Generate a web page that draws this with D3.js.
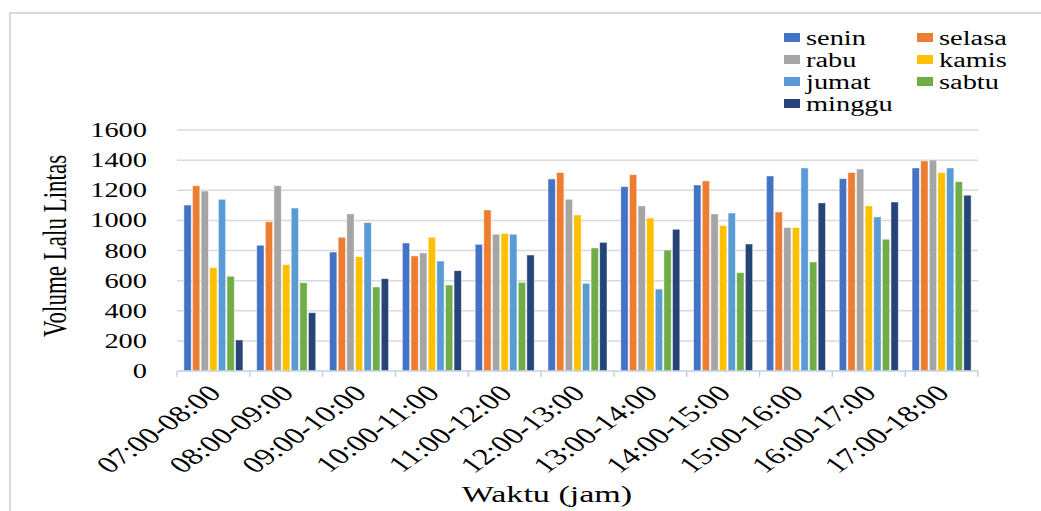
<!DOCTYPE html>
<html>
<head>
<meta charset="utf-8">
<script src="https://cdn.jsdelivr.net/npm/d3@7"></script>
<style>
  html, body { margin: 0; padding: 0; background: #fff; }
  svg { display: block; }
  text { font-family: "Liberation Serif", serif; fill: #000; }
</style>
</head>
<body>
<svg id="chart" width="1041" height="511"></svg>
<script>
const categories = ["07:00-08:00","08:00-09:00","09:00-10:00","10:00-11:00","11:00-12:00","12:00-13:00","13:00-14:00","14:00-15:00","15:00-16:00","16:00-17:00","17:00-18:00"];
const seriesNames = ["senin","selasa","rabu","kamis","jumat","sabtu","minggu"];
const senin  = [1102, 835, 790, 850, 841, 1275, 1224, 1235, 1295, 1277, 1348];
const selasa = [1230, 991, 888, 764, 1069, 1317, 1303, 1262, 1056, 1317, 1395];
const rabu   = [1195, 1230, 1043, 784, 908, 1140, 1096, 1043, 952, 1341, 1401];
const kamis  = [686, 706, 759, 888, 914, 1036, 1016, 965, 952, 1096, 1317];
const jumat  = [1140, 1082, 985, 730, 908, 582, 544, 1049, 1348, 1023, 1348];
const sabtu  = [629, 586, 558, 571, 589, 817, 803, 653, 724, 875, 1257];
const minggu = [206, 387, 613, 666, 770, 854, 941, 843, 1116, 1122, 1167];
const yTicks = [0, 200, 400, 600, 800, 1000, 1200, 1400, 1600];
const colors = ["#4472C4","#ED7D31","#A5A5A5","#FFC000","#5B9BD5","#70AD47","#264478"];

const seriesValues = [senin, selasa, rabu, kamis, jumat, sabtu, minggu];
const SX = 1.42; // horizontal stretch of the original image

const svg = d3.select("#chart");

// frame
svg.append("line").attr("x1", 10).attr("x2", 1041).attr("y1", 13).attr("y2", 13)
  .attr("stroke", "#d9d9d9").attr("stroke-width", 2);
svg.append("line").attr("x1", 10).attr("x2", 10).attr("y1", 12).attr("y2", 511)
  .attr("stroke", "#d9d9d9").attr("stroke-width", 2);

const x = d3.scaleBand().domain(categories).range([177, 978]).paddingInner(0).paddingOuter(0);
const xs = d3.scaleBand().domain(seriesNames).range([0, x.bandwidth()]).paddingInner(0.15).paddingOuter(0.8);
const y = d3.scaleLinear().domain([0, 1600]).range([371, 130]);

// gridlines
svg.append("g").selectAll("line").data(yTicks.filter(d => d > 0)).join("line")
  .attr("x1", 177).attr("x2", 978)
  .attr("y1", d => y(d)).attr("y2", d => y(d))
  .attr("stroke", "#d9d9d9").attr("stroke-width", 1.5);

// bars
const groups = svg.append("g").selectAll("g").data(categories).join("g")
  .attr("transform", d => `translate(${x(d)},0)`);
groups.selectAll("rect")
  .data((c, i) => seriesNames.map((s, j) => ({ s, j, v: seriesValues[j][i] })))
  .join("rect")
  .attr("x", d => xs(d.s))
  .attr("width", xs.bandwidth())
  .attr("y", d => y(d.v))
  .attr("height", d => y(0) - y(d.v))
  .attr("fill", d => colors[d.j])
  .attr("stroke", "#ffffff").attr("stroke-opacity", 0.6).attr("stroke-width", 0.8);

// x axis line and ticks
svg.append("line").attr("x1", 177).attr("x2", 978).attr("y1", 371).attr("y2", 371)
  .attr("stroke", "#c5d0e6").attr("stroke-width", 1.5);
const bounds = categories.map(c => x(c)).concat([x.range()[1]]);
svg.append("g").selectAll("line").data(bounds).join("line")
  .attr("x1", d => d).attr("x2", d => d).attr("y1", 371).attr("y2", 377)
  .attr("stroke", "#c5d0e6").attr("stroke-width", 1.5);

// y tick labels
svg.append("g").selectAll("text").data(yTicks).join("text")
  .attr("transform", d => `translate(147,${y(d)}) scale(${SX},1)`)
  .attr("dy", "0.35em")
  .attr("text-anchor", "end")
  .attr("font-size", 20)
  .text(d => d);

// x tick labels
svg.append("g").selectAll("text").data(categories).join("text")
  .attr("transform", d => `translate(${x(d) + x.bandwidth() / 2 + 1},389) scale(${SX},1) rotate(-45)`)
  .attr("dy", "0.35em")
  .attr("text-anchor", "end")
  .attr("font-size", 23)
  .text(d => d);

// axis titles
svg.append("text")
  .attr("transform", `translate(55,246) scale(${SX},1) rotate(-90)`)
  .attr("dy", "0.35em")
  .attr("text-anchor", "middle")
  .attr("font-size", 23)
  .text("Volume Lalu Lintas");
svg.append("text")
  .attr("transform", `translate(547,502) scale(${SX},1)`)
  .attr("text-anchor", "middle")
  .attr("font-size", 24)
  .text("Waktu (jam)");

// legend
const legend = svg.append("g").selectAll("g").data(seriesNames).join("g")
  .attr("transform", (d, i) => `translate(${i % 2 === 0 ? 784 : 917},${33 + Math.floor(i / 2) * 22})`);
legend.append("rect").attr("width", 16).attr("height", 9)
  .attr("fill", (d, i) => colors[i]);
legend.append("text")
  .attr("transform", `translate(22,12) scale(${SX},1)`)
  .attr("font-size", 20)
  .text(d => d);
</script>
</body>
</html>
